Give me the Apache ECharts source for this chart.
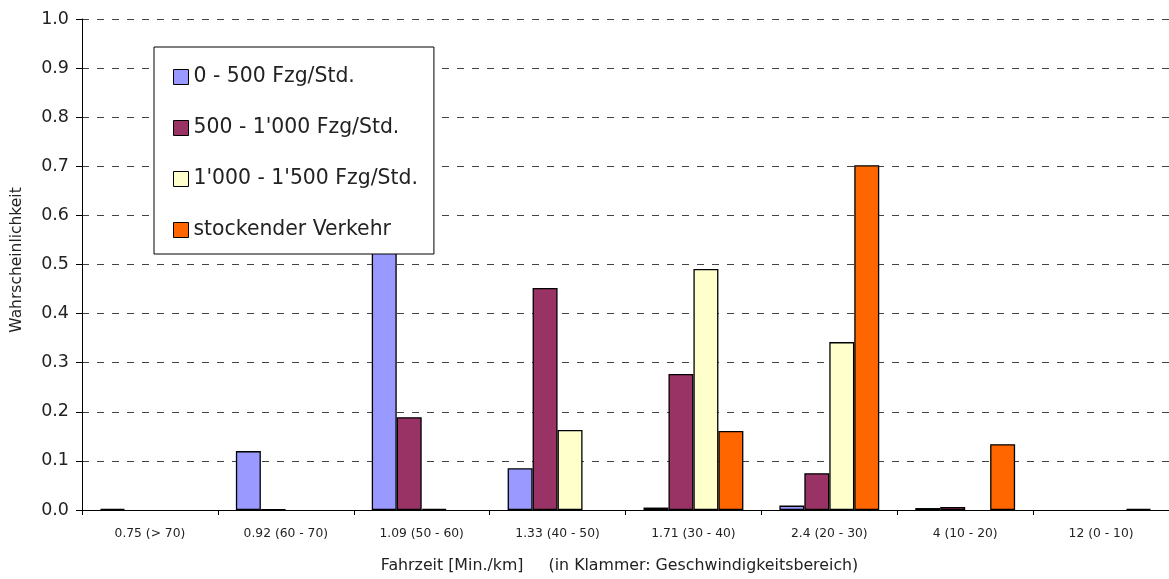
<!DOCTYPE html>
<html>
<head>
<meta charset="utf-8">
<script src="https://cdn.jsdelivr.net/npm/echarts@6/dist/echarts.min.js"></script>
<style>
  html, body { margin: 0; padding: 0; background: #fff; }
  #chart { width: 1169px; height: 579px; }
</style>
</head>
<body>
<div id="chart"></div>
<script>
// Travel time classes (min/km) with speed range in brackets
const categories = ['0.75 (> 70)', '0.92 (60 - 70)', '1.09 (50 - 60)', '1.33 (40 - 50)',
                    '1.71 (30 - 40)', '2.4 (20 - 30)', '4 (10 - 20)', '12 (0 - 10)'];

const seriesNames = ['0 - 500 Fzg/Std.', "500 - 1'000 Fzg/Std.", "1'000 - 1'500 Fzg/Std.", 'stockender Verkehr'];

// Probability per travel-time class for each traffic-volume class
const flow0to500     = [0.002, 0.120, 0.775, 0.085, 0.005, 0.009, 0.004, 0];
const flow500to1000  = [0, 0.001, 0.189, 0.452, 0.277, 0.075, 0.006, 0];
const flow1000to1500 = [0, 0, 0.002, 0.163, 0.491, 0.342, 0, 0];
const congested      = [0, 0, 0, 0, 0.161, 0.702, 0.134, 0.002];

const yTicks = { min: 0, max: 1, interval: 0.1 };

const colors = ['#9999FF', '#993366', '#FFFFCC', '#FF6600'];
const seriesData = [flow0to500, flow500to1000, flow1000to1500, congested];

const FONT = 'DejaVu Sans';
const TEXT = '#222';

const chart = echarts.init(document.getElementById('chart'), null, { renderer: 'canvas' });

chart.setOption({
  animation: false,
  backgroundColor: '#ffffff',
  textStyle: { fontFamily: FONT, color: TEXT },
  grid: { left: 82, top: 19, bottom: 68, width: 1090, containLabel: false },
  legend: {
    orient: 'vertical',
    left: 154,
    top: 47,
    padding: [20, 16, 14, 19],
    itemGap: 31,
    itemWidth: 15,
    itemHeight: 15,
    backgroundColor: '#ffffff',
    borderColor: '#000000',
    borderWidth: 1,
    borderRadius: 0,
    icon: 'rect',
    itemStyle: { borderColor: '#000', borderWidth: 1 },
    textStyle: { fontFamily: FONT, fontSize: 20.4, lineHeight: 20, color: TEXT },
    data: seriesNames
  },
  xAxis: {
    type: 'category',
    data: categories,
    name: 'Fahrzeit [Min./km]     (in Klammer: Geschwindigkeitsbereich)',
    nameLocation: 'middle',
    nameGap: 48,
    nameTextStyle: { fontFamily: FONT, fontSize: 15.8, color: TEXT, padding: [0, 12, 0, 0] },
    axisLine: { lineStyle: { color: '#000', width: 1 } },
    axisTick: { show: true, inside: false, length: 5, lineStyle: { color: '#000' } },
    axisLabel: { fontFamily: FONT, fontSize: 12.3, color: TEXT, margin: 18 },
    splitLine: { show: false }
  },
  yAxis: {
    type: 'value',
    min: yTicks.min,
    max: yTicks.max,
    interval: yTicks.interval,
    name: 'Wahrscheinlichkeit',
    nameLocation: 'middle',
    nameGap: 57,
    nameRotate: 90,
    nameTextStyle: { fontFamily: FONT, fontSize: 15.5, color: TEXT, padding: [0, 0, 0, 9] },
    axisLine: { show: true, lineStyle: { color: '#000', width: 1 } },
    axisTick: { show: true, inside: false, length: 6, lineStyle: { color: '#000' } },
    axisLabel: {
      fontFamily: FONT, fontSize: 17.5, color: TEXT, margin: 13,
      formatter: v => v.toFixed(1)
    },
    splitLine: {
      show: true,
      lineStyle: { color: '#444', width: 1, type: [7, 8] }
    }
  },
  series: seriesNames.map((name, i) => ({
    name,
    type: 'bar',
    // empty classes get no bar at all
    data: seriesData[i].map(v => (v === 0 ? null : v)),
    barGap: '0%',
    barCategoryGap: '26.5%',
    itemStyle: { color: colors[i], borderColor: '#000', borderWidth: 1.3 }
  }))
});
</script>
</body>
</html>
